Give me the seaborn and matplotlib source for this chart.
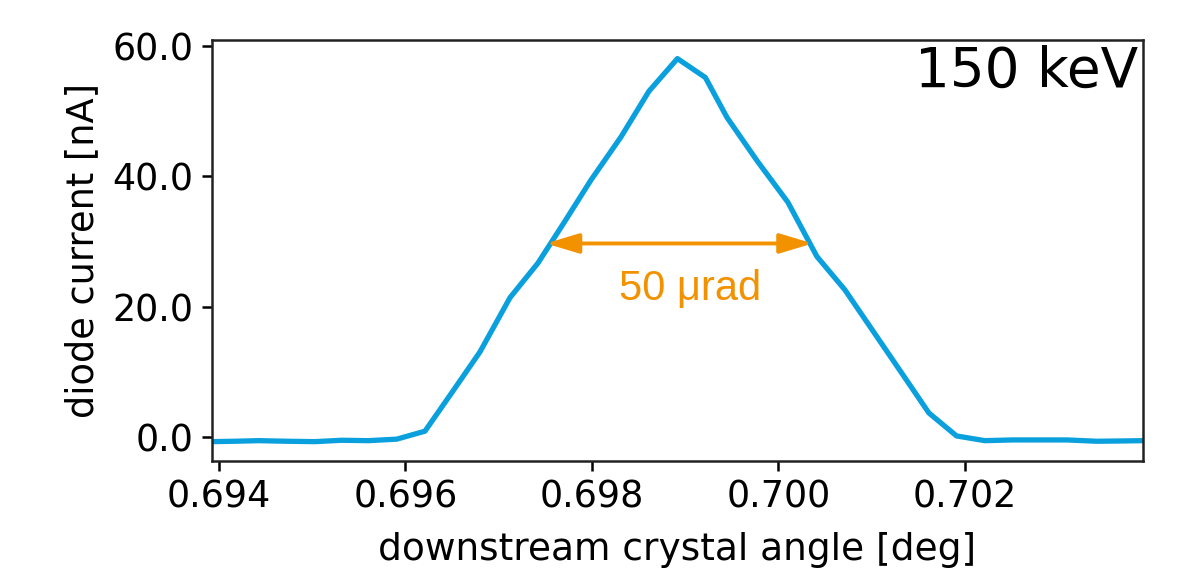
import numpy as np
import pandas as pd
import seaborn as sns
import matplotlib
matplotlib.use("Agg")
import matplotlib.pyplot as plt
from matplotlib.ticker import FormatStrFormatter, FixedLocator

# ---- data ----
angle_deg = [0.693922, 0.694172, 0.694421, 0.694729, 0.695029, 0.695316, 0.695601,
             0.695906, 0.696209, 0.696504, 0.696799, 0.697121, 0.697421, 0.697710,
             0.697989, 0.698311, 0.698611, 0.698917, 0.699217, 0.699448, 0.699769,
             0.700102, 0.700413, 0.700713, 0.701024, 0.701335, 0.701614, 0.701911,
             0.702214, 0.702515, 0.702804, 0.703094, 0.703416, 0.703662, 0.703909]
current_nA = [-0.64, -0.58, -0.49, -0.58, -0.64, -0.43, -0.49,
              -0.26, 0.96, 7.0, 13.1, 21.4, 26.7, 33.1,
              39.4, 46.0, 53.0, 58.0, 55.1, 49.0, 42.4,
              36.0, 27.7, 22.6, 16.1, 9.6, 3.75, 0.23,
              -0.49, -0.38, -0.38, -0.38, -0.58, -0.54, -0.49]

x_ticks = [0.694, 0.696, 0.698, 0.700, 0.702]
y_ticks = [0.0, 20.0, 40.0, 60.0]

fwhm_x = [0.697505, 0.700368]   # arrow ends
fwhm_y = 29.7
fwhm_label = "50 μrad"
fwhm_label_pos = (0.699055, 21.0)
energy_label = "150 keV"
x_label = "downstream crystal angle [deg]"
y_label = "diode current [nA]"

line_color = "#0AA0DD"
orange = "#F39200"

df = pd.DataFrame({"angle": angle_deg, "current": current_nA})

sns.set_style("ticks")
plt.rcParams["font.family"] = ["DejaVu Sans"]

fig = plt.figure(figsize=(12.03, 5.68), dpi=100)
ax = fig.add_axes([0.176, 0.189, 0.774, 0.7406])

sns.lineplot(data=df, x="angle", y="current", ax=ax, sort=False,
             color=line_color, linewidth=3.8, estimator=None)

ax.set_xlim(0.693922, 0.703909)
ax.set_ylim(-3.55, 60.85)
ax.xaxis.set_major_locator(FixedLocator(x_ticks))
ax.yaxis.set_major_locator(FixedLocator(y_ticks))
ax.xaxis.set_major_formatter(FormatStrFormatter("%.3f"))
ax.yaxis.set_major_formatter(FormatStrFormatter("%.1f"))
ax.tick_params(axis="both", labelsize=26.3, length=7, width=1.8, direction="out",
               color="black", labelcolor="black", pad=6)

for s in ax.spines.values():
    s.set_visible(True)
    s.set_color("#222222")
    s.set_linewidth(1.8)

ax.set_xlabel(x_label, fontsize=27, labelpad=12, color="black")
ax.set_ylabel(y_label, fontsize=26.5, labelpad=8, color="black")

# FWHM arrow and label
ax.annotate("", xy=(fwhm_x[1], fwhm_y), xytext=(fwhm_x[0], fwhm_y),
            arrowprops=dict(arrowstyle="<|-|>,head_length=1.0,head_width=0.3",
                            color=orange, lw=2.8, shrinkA=0, shrinkB=0,
                            mutation_scale=20))
ax.text(fwhm_label_pos[0], fwhm_label_pos[1], fwhm_label, color=orange, fontsize=30,
        ha="center", va="baseline", family=["Liberation Sans", "DejaVu Sans"])

ax.text(0.9946, 0.988, energy_label, transform=ax.transAxes, ha="right", va="top",
        fontsize=39.5, color="black")

fig.savefig("out.png", dpi=100)
